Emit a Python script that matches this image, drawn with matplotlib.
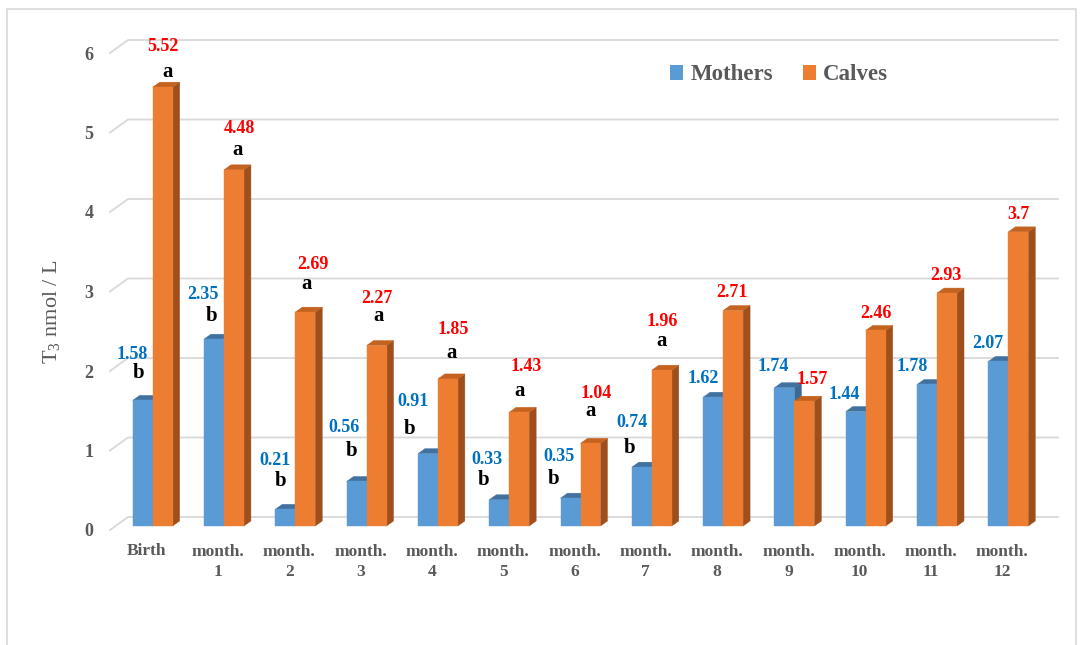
import numpy as np
import matplotlib.pyplot as plt
from matplotlib.patches import Polygon, Patch, Rectangle

plt.rcParams['font.family'] = ['Liberation Serif', 'DejaVu Serif']
plt.rcParams['mathtext.default'] = 'regular'

# T3 concentrations (nmol/L)
categories = ['Birth', 'month.\n1', 'month.\n2', 'month.\n3', 'month.\n4', 'month.\n5',
              'month.\n6', 'month.\n7', 'month.\n8', 'month.\n9', 'month.\n10',
              'month.\n11', 'month.\n12']
mothers = [1.58, 2.35, 0.21, 0.56, 0.91, 0.33, 0.35, 0.74, 1.62, 1.74, 1.44, 1.78, 2.07]
calves = [5.52, 4.48, 2.69, 2.27, 1.85, 1.43, 1.04, 1.96, 2.71, 1.57, 2.46, 2.93, 3.7]
mothers_sig = ['b'] * 8 + [''] * 5
calves_sig = ['a'] * 8 + [''] * 5
yticks = [0, 1, 2, 3, 4, 5, 6]

# label offsets from the bar top, in pixels (dx right, dy up)
m_val_off = [(-10, 46), (-11, 45), (-10, 49), (-13, 54), (-15, 52), (-12, 40), (-12, 42),
             (-10, 45), (-10, 19), (-11, 21), (-12, 17), (-15, 18), (-10, 18)]
m_sig_off = [(-4, 27), (-2, 23), (-5, 28), (-5, 30), (-18, 25), (-16, 20), (-17, 19), (-12, 19)]
c_val_off = [(0, 41), (5, 41), (8, 48), (0, 47), (5, 49), (7, 46), (6, 50), (0, 49),
             (-1, 18), (8, 22), (0, 17), (-1, 18), (0, 17)]
c_sig_off = [(5, 15), (4, 20), (1, 28), (2, 30), (4, 26), (0, 21), (0, 32), (0, 29)]

W, H = 1089, 645
fig = plt.figure(figsize=(W / 100, H / 100), dpi=100)
# front plane: x -0.5..12.5 -> px 117..1044, y 0..6 -> px 526..49
ax = fig.add_axes([117 / W, (H - 526) / H, 927 / W, 477 / H])
ax.set_xlim(-0.5, 12.5)
ax.set_ylim(0, 6)
ax.axis('off')

sx = 927 / 13.0   # px per category
sy = 477 / 6.0    # px per unit


def px(dx, dy):
    return dx / sx, dy / sy


# chart frame
fig.patches.append(Rectangle((7 / W, -0.05), 1069 / W, 1 - 9 / H + 0.05,
                             transform=fig.transFigure, fill=False,
                             edgecolor='#D9D9D9', linewidth=1.2))

# back wall gridlines with the slanted floor edge
fx, fy = px(-7, -4)
bx, by = px(11, 9)
xr = -0.5 + (1058 - 117) / sx
for v in yticks:
    ax.plot([-0.5 + fx, -0.5 + bx, xr], [v + fy, v + by, v + by],
            color='#D9D9D9', linewidth=1.3, zorder=1, clip_on=False)
    ax.text(-0.5 + px(-28, 0)[0], v + px(0, -6)[1], str(v), ha='center', va='center',
            fontsize=13, fontweight='bold', color='#595959')

bw = 0.28
ddx, ddy = px(7, 5)


def bar3d(x0, h, front, top, side, z):
    pts_front = [(x0, 0), (x0 + bw, 0), (x0 + bw, h), (x0, h)]
    pts_top = [(x0, h), (x0 + bw, h), (x0 + bw + ddx, h + ddy), (x0 + ddx, h + ddy)]
    pts_side = [(x0 + bw, 0), (x0 + bw + ddx, ddy), (x0 + bw + ddx, h + ddy), (x0 + bw, h)]
    for pts, c in ((pts_side, side), (pts_top, top), (pts_front, front)):
        ax.add_patch(Polygon(pts, closed=True, facecolor=c, edgecolor=c,
                             linewidth=0.3, zorder=z, clip_on=False))


for i in range(len(categories)):
    bar3d(i - bw, mothers[i], '#5B9BD5', '#41729F', '#3C6A96', 2 + i * 0.01)
    bar3d(i, calves[i], '#ED7D31', '#C4621F', '#9E4F1C', 2.005 + i * 0.01)

lab = dict(ha='center', va='center', fontweight='bold', textcoords='offset points',
           annotation_clip=False)
k = 72 / 100
for i in range(len(categories)):
    xm = i - bw / 2
    xc = i + bw / 2
    dx, dy = m_val_off[i]
    ax.annotate(f'{mothers[i]:g}', (xm, mothers[i]), xytext=(dx * k, dy * k),
                fontsize=13, color='#0070C0', **lab)
    dx, dy = c_val_off[i]
    ax.annotate(f'{calves[i]:g}', (xc, calves[i]), xytext=(dx * k, dy * k),
                fontsize=13, color='#FF0000', **lab)
    if mothers_sig[i]:
        dx, dy = m_sig_off[i]
        ax.annotate(mothers_sig[i], (xm, mothers[i]), xytext=(dx * k, dy * k),
                    fontsize=15, color='black', **lab)
    if calves_sig[i]:
        dx, dy = c_sig_off[i]
        ax.annotate(calves_sig[i], (xc, calves[i]), xytext=(dx * k, dy * k),
                    fontsize=15, color='black', **lab)

# category labels on the floor front edge
for i, c in enumerate(categories):
    cx = i + px(-6, 0)[0]
    if '\n' in c:
        ax.text(cx, px(0, -36)[1], c, ha='center', va='center', fontsize=12.5,
                fontweight='bold', color='#595959', linespacing=1.35, clip_on=False)
    else:
        ax.text(cx, px(0, -25)[1], c, ha='center', va='center', fontsize=12.5,
                fontweight='bold', color='#595959', clip_on=False)

fig.text(52 / W, 1 - 312 / H, r'T$_{3}$ nmol / L', rotation=90, ha='center', va='center',
         fontsize=16, color='#595959')

handles = [Patch(facecolor='#5B9BD5', label='Mothers'),
           Patch(facecolor='#ED7D31', label='Calves')]
leg = fig.legend(handles=handles, loc='center', bbox_to_anchor=(779 / W, 1 - 75 / H),
                 ncol=2, frameon=False, handlelength=0.6, handleheight=0.6,
                 handletextpad=0.3, columnspacing=1.3,
                 prop={'size': 16.5, 'weight': 'bold'})
for t in leg.get_texts():
    t.set_color('#595959')

fig.savefig('out.png', dpi=100)
